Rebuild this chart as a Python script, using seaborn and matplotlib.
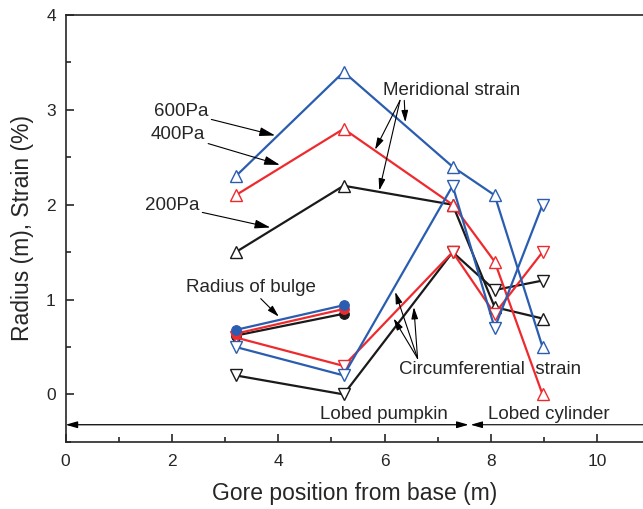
import matplotlib
matplotlib.use("Agg")
import matplotlib.pyplot as plt
import seaborn as sns
from matplotlib.ticker import MultipleLocator

# gore positions (m) where strain was measured
gore_x = [3.2, 5.23, 7.28, 8.07, 8.97]
pressures = ['600Pa', '400Pa', '200Pa']

# meridional strain (%), up triangles
merid_600 = [2.3, 3.4, 2.4, 2.1, 0.5]
merid_400 = [2.1, 2.8, 2.0, 1.4, 0.0]
merid_200 = [1.5, 2.2, 2.0, 0.92, 0.8]

# circumferential strain (%), down triangles
circ_600 = [0.5, 0.2, 2.2, 0.7, 2.0]
circ_400 = [0.6, 0.3, 1.5, 0.85, 1.5]
circ_200 = [0.2, 0.0, 1.5, 1.1, 1.2]

# radius of bulge (m)
bulge_x = [3.2, 5.23]
bulge_600 = [0.68, 0.94]
bulge_400 = [0.64, 0.90]
bulge_200 = [0.62, 0.85]

sns.set_style("ticks")
plt.rcParams['font.family'] = ['Liberation Sans', 'DejaVu Sans']

colors = {'600Pa': '#2a5db0', '400Pa': '#ee2a2e', '200Pa': '#1a1a1a'}
merid = {'600Pa': merid_600, '400Pa': merid_400, '200Pa': merid_200}
circ = {'600Pa': circ_600, '400Pa': circ_400, '200Pa': circ_200}
bulge = {'600Pa': bulge_600, '400Pa': bulge_400, '200Pa': bulge_200}

fig = plt.figure(figsize=(6.43, 5.09), dpi=100)
ax = fig.add_axes([0.102, 0.132, 0.898, 0.8385])

for p in ['200Pa', '400Pa', '600Pa']:
    c = colors[p]
    sns.lineplot(x=gore_x, y=merid[p], ax=ax, color=c, sort=False,
                 marker='^', markersize=8, markerfacecolor='white',
                 markeredgecolor=c, markeredgewidth=1, linewidth=1.6)
    sns.lineplot(x=gore_x, y=circ[p], ax=ax, color=c, sort=False,
                 marker='v', markersize=8, markerfacecolor='white',
                 markeredgecolor=c, markeredgewidth=1, linewidth=1.6)
    sns.lineplot(x=bulge_x, y=bulge[p], ax=ax, color=c, sort=False,
                 marker='o', markersize=7, markerfacecolor=c,
                 markeredgecolor=c, linewidth=1.6)

ax.set_xlim(0, 10.86)
ax.set_ylim(-0.5, 4)
ax.xaxis.set_major_locator(MultipleLocator(2))
ax.xaxis.set_minor_locator(MultipleLocator(1))
ax.yaxis.set_major_locator(MultipleLocator(1))
ax.yaxis.set_minor_locator(MultipleLocator(0.5))
ax.tick_params(which='both', direction='in', width=1.2, labelsize=12.5)
ax.tick_params(which='major', length=6)
ax.tick_params(which='minor', length=3.5)
ax.tick_params(axis='x', pad=9)
ax.tick_params(axis='y', pad=7)
ax.spines['right'].set_visible(False)
for s in ['left', 'bottom', 'top']:
    ax.spines[s].set_linewidth(1.2)

ax.set_xlabel('Gore position from base (m)', fontsize=16.5, labelpad=9)
ax.set_ylabel('Radius (m), Strain (%)', fontsize=16.5, labelpad=9)

fs = 13.5
arrow = dict(arrowstyle='-|>,head_length=0.7,head_width=0.2', color='black',
             lw=0.8, shrinkA=0, shrinkB=0)

# pressure labels
ax.annotate('600Pa', xy=(3.94, 2.73), xytext=(2.68, 2.98), ha='right',
            va='center', fontsize=fs, arrowprops=arrow)
ax.annotate('400Pa', xy=(4.03, 2.42), xytext=(2.62, 2.74), ha='right',
            va='center', fontsize=fs, arrowprops=arrow)
ax.annotate('200Pa', xy=(3.85, 1.76), xytext=(2.51, 1.99), ha='right',
            va='center', fontsize=fs, arrowprops=arrow)

# meridional strain
ax.text(7.27, 3.2, 'Meridional strain', ha='center', va='center', fontsize=fs)
for head in [(5.82, 2.58), (5.9, 2.15)]:
    ax.annotate('', xy=head, xytext=(6.29, 3.1), arrowprops=arrow)
ax.annotate('', xy=(6.39, 2.87), xytext=(6.37, 3.1), arrowprops=arrow)

# radius of bulge
ax.text(3.49, 1.13, 'Radius of bulge', ha='center', va='center', fontsize=fs)
ax.annotate('', xy=(4.01, 0.82), xytext=(3.67, 1.01), arrowprops=arrow)

# circumferential strain
ax.text(7.98, 0.26, 'Circumferential  strain', ha='center', va='center',
        fontsize=fs)
for head in [(6.2, 1.08), (6.17, 0.8), (6.55, 0.92)]:
    ax.annotate('', xy=head, xytext=(6.62, 0.38), arrowprops=arrow)

# regions
ax.text(5.98, -0.21, 'Lobed pumpkin', ha='center', va='center', fontsize=fs)
ax.text(9.09, -0.21, 'Lobed cylinder', ha='center', va='center', fontsize=fs)
region_arrow = dict(arrowstyle='<|-|>,head_length=0.7,head_width=0.2',
                    color='black', lw=0.9, shrinkA=0, shrinkB=0)
ax.annotate('', xy=(0, -0.32), xytext=(7.58, -0.32), arrowprops=region_arrow)
ax.annotate('', xy=(7.62, -0.32), xytext=(11.5, -0.32), arrowprops=arrow,
            annotation_clip=False)

fig.savefig('out.png', dpi=100)
